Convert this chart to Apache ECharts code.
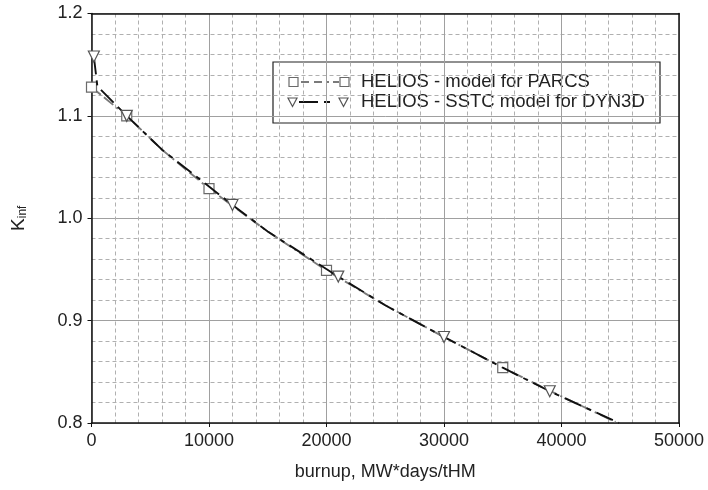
<!DOCTYPE html>
<html>
<head>
<meta charset="utf-8">
<title>K-inf vs burnup</title>
<script src="https://cdn.jsdelivr.net/npm/echarts@6/dist/echarts.min.js"></script>
<style>
  html, body { margin: 0; padding: 0; background: #fff; }
  #chart { width: 708px; height: 490px; }
</style>
</head>
<body>
<div id="chart"></div>
<script>
// Axis ranges and tick spacing
var xMin = 0, xMax = 50000, xStep = 10000;
var yMin = 0.8, yMax = 1.2, yStep = 0.1;

// HELIOS - model for PARCS
var parcsBurnup = [0, 3000, 6000, 10000, 15000, 20000, 25000, 30000, 35000, 40000, 44600];
var parcsKinf   = [1.128, 1.100, 1.067, 1.029, 0.987, 0.949, 0.915, 0.884, 0.854, 0.826, 0.801];
var parcsMarked = [true, true, false, true, false, true, false, false, true, false, false];

// HELIOS - SSTC model for DYN3D
var dynBurnup = [200, 500, 3000, 6000, 12000, 15000, 21000, 25000, 30000, 35000, 39000, 44900];
var dynKinf   = [1.158, 1.129, 1.100, 1.067, 1.013, 0.987, 0.943, 0.915, 0.884, 0.854, 0.831, 0.800];
var dynMarked = [true, false, true, false, true, false, true, false, true, false, true, false];

// Legend labels
var parcsName = 'HELIOS - model for PARCS';
var dynName = 'HELIOS - SSTC model for DYN3D';

var FONT = '"Liberation Sans", Arial, sans-serif';

function pairs(xs, ys, marked) {
  return xs.map(function (x, i) {
    return { value: [x, ys[i]], symbol: marked[i] ? undefined : 'none' };
  });
}

var chart = echarts.init(document.getElementById('chart'), null, { renderer: 'canvas' });

var baseX = { type: 'value', min: xMin, max: xMax, interval: xStep };
var baseY = { type: 'value', min: yMin, max: yMax, interval: yStep };

var legendX = 273, legendY = 62, legendW = 387, legendH = 61;
var row1 = legendY + 20, row2 = legendY + 40;

var option = {
  animation: false,
  backgroundColor: '#fff',
  grid: {
    left: 91.5, right: 29, top: 13.5, bottom: 67,
    containLabel: false, outerBoundsMode: 'none'
  },
  xAxis: [
    Object.assign({}, baseX, {
      position: 'bottom',
      name: 'burnup, MW*days/tHM',
      nameLocation: 'middle',
      nameGap: 40,
      nameTextStyle: { fontSize: 18, color: '#222', fontFamily: FONT },
      axisLine: { show: true, onZero: false, lineStyle: { color: '#111', width: 1.5 } },
      axisTick: { show: true, length: 4, inside: false, lineStyle: { color: '#111' } },
      minorTick: { show: false, splitNumber: 5 },
      axisLabel: {
        fontSize: 18, color: '#222', fontFamily: FONT, margin: 9,
        formatter: function (v) { return String(v); }
      },
      splitLine: { show: true, lineStyle: { color: '#a0a0a0', width: 1 } },
      minorSplitLine: { show: true, lineStyle: { color: '#b0b0b0', type: [4, 3], width: 1 } }
    }),
    Object.assign({}, baseX, {
      position: 'top',
      axisLine: { show: true, onZero: false, lineStyle: { color: '#111', width: 1.5 } },
      axisTick: { show: false },
      axisLabel: { show: false },
      splitLine: { show: false }
    })
  ],
  yAxis: [
    Object.assign({}, baseY, {
      position: 'left',
      name: '{k|K}{s|inf}',
      nameLocation: 'middle',
      nameRotate: 90,
      nameGap: 63,
      nameTextStyle: {
        fontFamily: FONT, color: '#222',
        rich: {
          k: { fontSize: 19, lineHeight: 22, verticalAlign: 'bottom', fontFamily: FONT, color: '#222' },
          s: { fontSize: 12, lineHeight: 10, verticalAlign: 'bottom', fontFamily: FONT, color: '#222' }
        }
      },
      axisLine: { show: true, onZero: false, lineStyle: { color: '#111', width: 1.5 } },
      axisTick: { show: true, length: 4, inside: false, lineStyle: { color: '#111' } },
      minorTick: { show: false, splitNumber: 5 },
      axisLabel: {
        fontSize: 18, color: '#222', fontFamily: FONT, margin: 9,
        formatter: function (v) { return v.toFixed(1); }
      },
      splitLine: { show: true, lineStyle: { color: '#a0a0a0', width: 1 } },
      minorSplitLine: { show: true, lineStyle: { color: '#b0b0b0', type: [4, 3], width: 1 } }
    }),
    Object.assign({}, baseY, {
      position: 'right',
      axisLine: { show: true, onZero: false, lineStyle: { color: '#111', width: 1.5 } },
      axisTick: { show: false },
      axisLabel: { show: false },
      splitLine: { show: false }
    })
  ],
  series: [
    {
      name: parcsName,
      type: 'line',
      xAxisIndex: 0, yAxisIndex: 0,
      data: pairs(parcsBurnup, parcsKinf, parcsMarked),
      smooth: false,
      symbol: 'rect',
      symbolSize: 10,
      showAllSymbol: true,
      clip: true,
      lineStyle: { color: '#7a7a7a', width: 1.9, type: [12, 4, 12, 4, 2, 4] },
      itemStyle: { color: '#fff', borderColor: '#6a6a6a', borderWidth: 1.2 },
      z: 3
    },
    {
      name: dynName,
      type: 'line',
      xAxisIndex: 0, yAxisIndex: 0,
      data: pairs(dynBurnup, dynKinf, dynMarked),
      smooth: false,
      symbol: 'triangle',
      symbolRotate: 180,
      symbolSize: 11,
      showAllSymbol: true,
      clip: true,
      lineStyle: { color: '#111', width: 1.9, type: [18, 6, 5, 6] },
      itemStyle: { color: '#fff', borderColor: '#555', borderWidth: 1.2 },
      z: 4
    }
  ],
  graphic: [
    {
      type: 'group',
      z: 100,
      children: [
        {
          type: 'rect',
          shape: { x: legendX, y: legendY, width: legendW, height: legendH },
          style: { fill: '#fff', stroke: '#222', lineWidth: 1.2 }
        },
        // row 1: square - dash - square
        {
          type: 'rect',
          shape: { x: legendX + 16, y: row1 - 4.5, width: 9, height: 9 },
          style: { fill: '#fff', stroke: '#6a6a6a', lineWidth: 1.2 }
        },
        {
          type: 'line',
          shape: { x1: legendX + 28, y1: row1, x2: legendX + 66, y2: row1 },
          style: { stroke: '#7a7a7a', lineWidth: 1.8, lineDash: [8, 5, 8, 5, 2, 4] }
        },
        {
          type: 'rect',
          shape: { x: legendX + 67, y: row1 - 4.5, width: 9, height: 9 },
          style: { fill: '#fff', stroke: '#6a6a6a', lineWidth: 1.2 }
        },
        {
          type: 'text',
          style: {
            x: legendX + 88, y: row1, text: parcsName,
            fontSize: 18.5, fontFamily: FONT, fill: '#222',
            textVerticalAlign: 'middle', verticalAlign: 'middle'
          }
        },
        // row 2: triangle - dash - triangle
        {
          type: 'polygon',
          shape: { points: [[legendX + 15, row2 - 4], [legendX + 24, row2 - 4], [legendX + 19.5, row2 + 4.5]] },
          style: { fill: '#fff', stroke: '#555', lineWidth: 1.2 }
        },
        {
          type: 'line',
          shape: { x1: legendX + 26, y1: row2, x2: legendX + 66, y2: row2 },
          style: { stroke: '#111', lineWidth: 1.8, lineDash: [19, 6, 6, 20] }
        },
        {
          type: 'polygon',
          shape: { points: [[legendX + 66, row2 - 4], [legendX + 75, row2 - 4], [legendX + 70.5, row2 + 4.5]] },
          style: { fill: '#fff', stroke: '#555', lineWidth: 1.2 }
        },
        {
          type: 'text',
          style: {
            x: legendX + 88, y: row2, text: dynName,
            fontSize: 18.5, fontFamily: FONT, fill: '#222',
            textVerticalAlign: 'middle', verticalAlign: 'middle'
          }
        }
      ]
    }
  ]
};

chart.setOption(option);
</script>
</body>
</html>
